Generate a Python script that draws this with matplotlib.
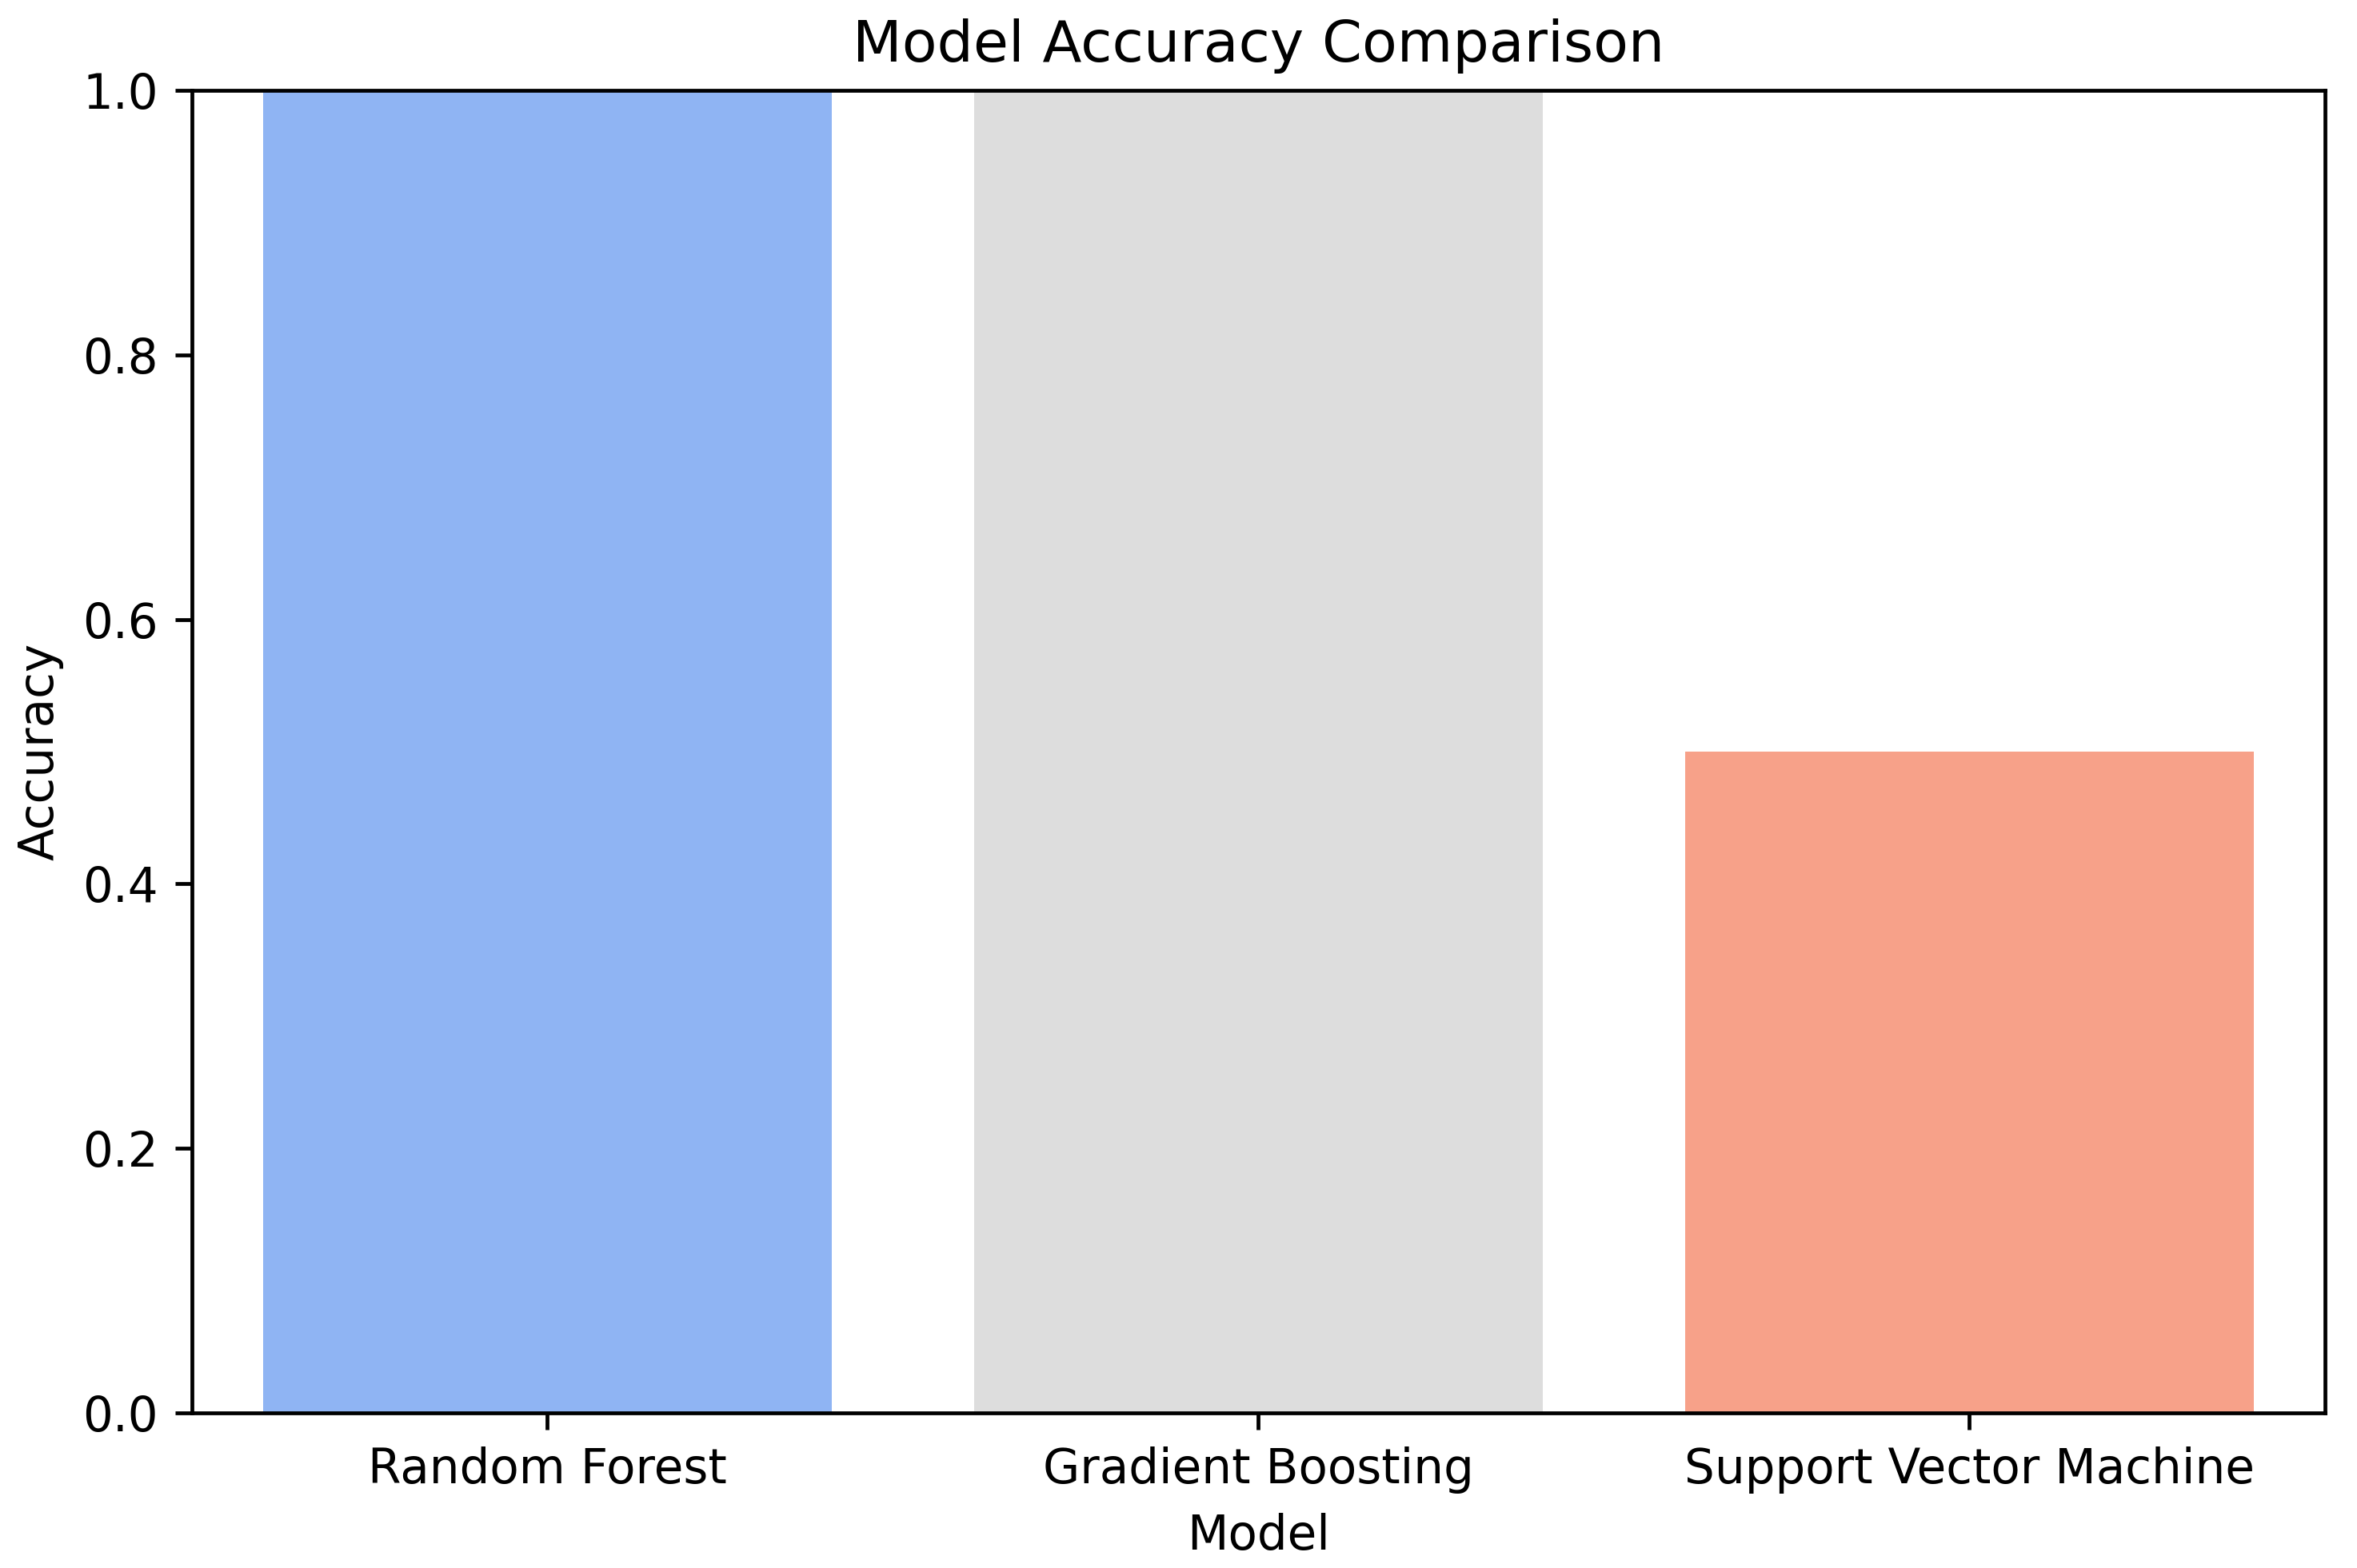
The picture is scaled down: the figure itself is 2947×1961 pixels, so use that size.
import numpy as np
import matplotlib
matplotlib.use("Agg")
from matplotlib import pyplot as plt

# model scores
models = ["Random Forest", "Gradient Boosting", "Support Vector Machine"]
accuracy = [1.0, 1.0, 0.5]
bar_colors = ["#8fb4f3", "#dddddd", "#f7a189"]

# the reference looks like a default plot blown up by ~1.43
s = 1.43
plt.rcParams.update({
    "font.size": 10 * s,
    "axes.titlesize": 12 * s,
    "axes.linewidth": 0.8 * s,
    "axes.titlepad": 6 * s,
    "axes.labelpad": 4 * s,
    "xtick.major.size": 3.5 * s,
    "ytick.major.size": 3.5 * s,
    "xtick.major.width": 0.8 * s,
    "ytick.major.width": 0.8 * s,
    "xtick.major.pad": 3.5 * s,
    "ytick.major.pad": 3.5 * s,
})

fig = plt.figure(figsize=(2947 / 300, 1961 / 300), dpi=300)
ax = fig.add_axes([0.0814, 0.0989, 0.9050, 0.8435])

x = np.arange(len(models))
ax.bar(x, accuracy, width=0.8, color=bar_colors)
ax.set_xticks(x)
ax.set_xticklabels(models)
ax.set_xlim(-0.5, 2.5)
ax.set_ylim(0, 1.0)
ax.set_xlabel("Model")
ax.set_ylabel("Accuracy")
ax.set_title("Model Accuracy Comparison")

fig.savefig("out.png", dpi=300)
